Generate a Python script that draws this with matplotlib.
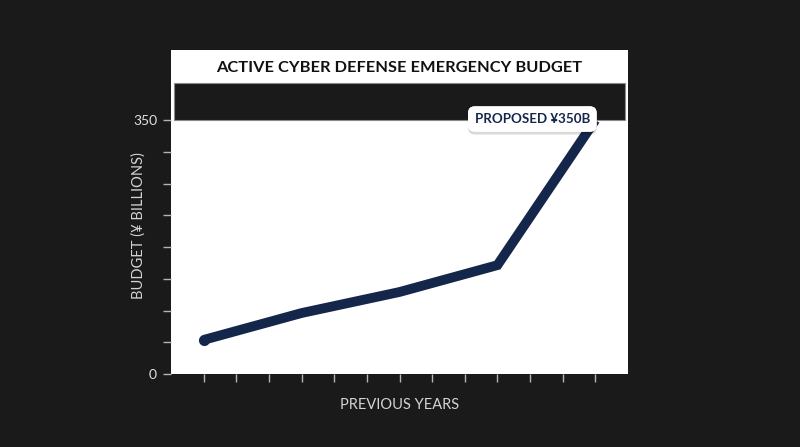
import matplotlib
matplotlib.use("Agg")
import matplotlib.pyplot as plt
import matplotlib.patheffects as pe
import numpy as np

plt.rcParams['font.family'] = ['Lato', 'DejaVu Sans']

# ---- data ----
year_idx = [0, 3, 6, 9, 12]
budget = [47, 84, 113, 150, 350]
x_ticks = list(range(0, 13))
y_ticks = [0, 43.75, 87.5, 131.25, 175, 218.75, 262.5, 306.25, 350]
y_tick_labels = ['0', '', '', '', '', '', '', '', '350']
title = "ACTIVE CYBER DEFENSE EMERGENCY BUDGET"
xlabel = "PREVIOUS YEARS"
ylabel = "BUDGET (¥ BILLIONS)"
callout = "PROPOSED ¥350B"

BG = '#1a1a1a'
NAVY = '#14264a'

fig = plt.figure(figsize=(8, 4.47), dpi=100, facecolor=BG)
ax = fig.add_axes([171/800, 1-374/447, 457/800, 324/447])
ax.set_facecolor('white')
ax.set_xlim(-1, 13)
ax.set_ylim(0, 446.5)
for s in ax.spines.values():
    s.set_visible(False)

ax.set_xticks(x_ticks)
ax.set_xticklabels([])
ax.set_yticks(y_ticks)
ax.set_yticklabels(y_tick_labels)
ax.tick_params(axis='both', colors='#b5b5b5', length=6, width=1, direction='out')
ax.tick_params(axis='y', labelcolor='#e0e0e0', labelsize=10, pad=4)

# dark band above the top of the scale
ax.axhspan(350, 401, xmin=3/457, xmax=454/457, facecolor=BG, edgecolor='#8a8a8a',
           linewidth=0.8, zorder=1)

ax.text(0.5, (374-68)/324, title, transform=ax.transAxes, ha='center', va='center',
        fontsize=11.8, fontweight='bold', color='#111111')

ax.plot(year_idx, budget, color=NAVY, linewidth=7, solid_capstyle='butt',
        solid_joinstyle='miter', zorder=3)
ax.plot(year_idx[:1], budget[:1], 'o', color=NAVY, markersize=7, zorder=3)

ann = ax.annotate(callout, xy=(year_idx[-1], budget[-1]), xytext=(-63, 1),
                  textcoords='offset pixels', ha='center', va='center',
                  fontsize=9.6, fontweight='bold', color=NAVY, zorder=5,
                  bbox=dict(boxstyle='round,pad=0.5,rounding_size=0.5',
                            fc='white', ec='none'))
ann.get_bbox_patch().set_path_effects([
    pe.withSimplePatchShadow(offset=(0, -2), shadow_rgbFace='black', alpha=0.15),
    pe.Normal()])

ax.set_xlabel(xlabel, color='#d4d4d4', fontsize=10.5, labelpad=8)
ax.set_ylabel(ylabel, color='#d4d4d4', fontsize=10.5)
ax.yaxis.set_label_coords(-0.055, (374-226)/324)

fig.savefig('out.png', dpi=100, facecolor=BG)
